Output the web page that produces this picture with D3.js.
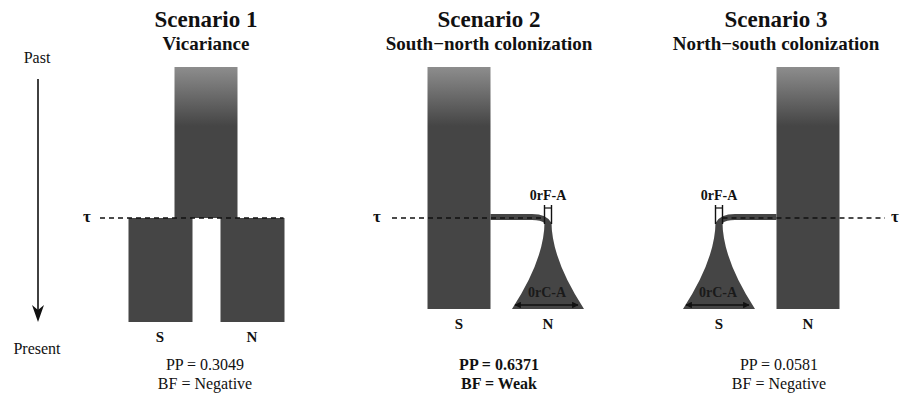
<!DOCTYPE html>
<html lang="en">

<head>
    <meta charset="UTF-8">
    <title>Colonization scenarios</title>
    <script src="https://d3js.org/d3.v7.min.js"></script>
</head>
<style>
    body {
        margin: 0;
        background: #fff;
    }

    text {
        font-family: "Liberation Serif", "Times New Roman", serif;
        fill: #111;
    }
</style>

<body>
    <div id="chart"></div>

    <script>
        // data
        const scenarios = ["Scenario 1", "Scenario 2", "Scenario 3"];
        const models = ["Vicariance", "South\u2212north colonization", "North\u2212south colonization"];
        const ppValues = [0.3049, 0.6371, 0.0581];
        const bfLabels = ["Negative", "Weak", "Negative"];
        const populations = ["S", "N"];
        const timeLabels = ["Past", "Present"];
        // which population is founded by a bottleneck (null = split)
        const founded = [null, "N", "S"];
        const tau = 0.4; // relative split time (0 = present, 1 = top of plot)

        // layout
        const width = 908,
            height = 395;
        const panels = [
            { s: 160, gap: 92, bottom: 322, titleX: 206, infoX: 205, tauX: 87, tauSide: -1 },
            { s: 459, gap: 89, bottom: 309, titleX: 489, infoX: 499, tauX: 377, tauSide: -1 },
            { s: 719, gap: 89, bottom: 309, titleX: 776, infoX: 779, tauX: 895, tauSide: 1 }
        ];
        const barW = 63;
        const best = ppValues.indexOf(d3.max(ppValues));

        const svg = d3.select("#chart")
            .append("svg")
            .attr("width", width)
            .attr("height", height);

        const defs = svg.append("defs");
        const grad = defs.append("linearGradient")
            .attr("id", "fade")
            .attr("gradientUnits", "userSpaceOnUse")
            .attr("x1", 0).attr("x2", 0)
            .attr("y1", 67).attr("y2", 126);
        grad.append("stop").attr("offset", 0).attr("stop-color", "#8d8d8d");
        grad.append("stop").attr("offset", 1).attr("stop-color", "#454545");

        defs.append("marker")
            .attr("id", "head")
            .attr("viewBox", "0 0 10 10")
            .attr("refX", 9).attr("refY", 5)
            .attr("markerWidth", 5).attr("markerHeight", 5)
            .attr("orient", "auto-start-reverse")
            .append("path")
            .attr("d", "M0,0 L10,5 L0,10 Z")
            .attr("fill", "#111");

        const fill = "#454545";

        // time arrow
        const yArrow = d3.scaleLinear().domain([1, 0]).range([79, 322]);
        svg.append("line")
            .attr("x1", 38).attr("x2", 38)
            .attr("y1", yArrow(1)).attr("y2", yArrow(0) - 8)
            .attr("stroke", "#111").attr("stroke-width", 1.6);
        svg.append("path")
            .attr("d", `M32,${yArrow(0) - 17} L38,${yArrow(0)} L44,${yArrow(0) - 17} L38,${yArrow(0) - 12} Z`)
            .attr("fill", "#111");
        svg.selectAll(".time")
            .data(timeLabels)
            .join("text")
            .attr("class", "time")
            .attr("x", 37)
            .attr("y", (d, i) => i === 0 ? 63 : 354)
            .attr("text-anchor", "middle")
            .style("font-size", "16px")
            .text(d => d);

        scenarios.forEach((name, i) => {
            const P = panels[i];
            const g = svg.append("g");
            const x = d3.scalePoint().domain(populations).range([P.s, P.s + P.gap]);
            const y = d3.scaleLinear().domain([1, tau, 0]).range([67, 218, P.bottom]);

            g.append("text")
                .attr("x", P.titleX).attr("y", 27)
                .attr("text-anchor", "middle")
                .style("font-size", "23px").style("font-weight", "bold")
                .text(name);
            g.append("text")
                .attr("x", P.titleX).attr("y", 50)
                .attr("text-anchor", "middle")
                .style("font-size", "19px").style("font-weight", "bold")
                .text(models[i]);

            if (founded[i] === null) {
                // ancestral population splitting into S and N
                const mid = (x("S") + x("N")) / 2;
                g.append("rect")
                    .attr("x", mid - barW / 2).attr("y", y(1))
                    .attr("width", barW).attr("height", y(tau) - y(1))
                    .attr("fill", "url(#fade)");
                g.selectAll(".pop")
                    .data(populations)
                    .join("rect")
                    .attr("x", d => x(d) - barW / 2).attr("y", y(tau))
                    .attr("width", barW + 1).attr("height", y(0) - y(tau))
                    .attr("fill", fill);
                g.append("line")
                    .attr("x1", P.tauX + 13).attr("x2", x("N") + barW / 2)
                    .attr("y1", y(tau)).attr("y2", y(tau))
                    .attr("stroke", "#111").attr("stroke-width", 1.6)
                    .attr("stroke-dasharray", "5,4");
            } else {
                const src = populations.find(p => p !== founded[i]);
                const sx = x(src),
                    fx = x(founded[i]);
                const dir = Math.sign(fx - sx);
                const edge = sx + dir * barW / 2;
                const t = y(tau);
                const tw = 3.5,
                    bw = 36,
                    yTop = t + 4,
                    yBot = y(0);

                g.append("rect")
                    .attr("x", sx - barW / 2).attr("y", y(1))
                    .attr("width", barW).attr("height", y(0) - y(1))
                    .attr("fill", "url(#fade)");

                // white box of the founder size
                g.append("rect")
                    .attr("x", fx - tw).attr("y", t - 11)
                    .attr("width", tw * 2).attr("height", 15)
                    .attr("fill", "#fff");

                // migrant band from the source to the founder
                const band = d3.path();
                band.moveTo(edge, t - 4);
                band.lineTo(fx - dir * 16, t - 4);
                band.quadraticCurveTo(fx - dir * 1, t - 4, fx + dir * tw, yTop + 1);
                band.lineTo(fx - dir * tw, yTop + 1);
                band.quadraticCurveTo(fx - dir * 7, t + 2, fx - dir * 16, t + 2);
                band.lineTo(edge, t + 2);
                band.closePath();
                g.append("path").attr("d", band.toString()).attr("fill", fill);

                // founder population expanding to present
                const fan = d3.path();
                fan.moveTo(fx - tw, yTop);
                fan.quadraticCurveTo(fx - tw, yBot - 50, fx - bw, yBot);
                fan.lineTo(fx + bw, yBot);
                fan.quadraticCurveTo(fx + tw, yBot - 50, fx + tw, yTop);
                fan.closePath();
                g.append("path").attr("d", fan.toString()).attr("fill", fill);

                // founder size bracket
                [-tw, tw].forEach(o => {
                    g.append("line")
                        .attr("x1", fx + o).attr("x2", fx + o)
                        .attr("y1", t - 13).attr("y2", t + 6)
                        .attr("stroke", "#111").attr("stroke-width", 1.4);
                });
                g.append("line")
                    .attr("x1", fx - tw).attr("x2", fx + tw)
                    .attr("y1", t - 10).attr("y2", t - 10)
                    .attr("stroke", "#111").attr("stroke-width", 1.2);
                g.append("text")
                    .attr("x", fx).attr("y", t - 18)
                    .attr("text-anchor", "middle")
                    .style("font-size", "14px").style("font-weight", "bold")
                    .text("0rF-A");

                // current size arrow
                g.append("line")
                    .attr("x1", fx - bw + 3).attr("x2", fx + bw - 6)
                    .attr("y1", yBot - 4).attr("y2", yBot - 4)
                    .attr("stroke", "#111").attr("stroke-width", 1.3)
                    .attr("marker-start", "url(#head)")
                    .attr("marker-end", "url(#head)");
                g.append("text")
                    .attr("x", fx - 1).attr("y", yBot - 12)
                    .attr("text-anchor", "middle")
                    .style("font-size", "14px").style("font-weight", "bold")
                    .style("fill", "#1a1a1a")
                    .text("0rC-A");

                // tau dashed line
                const x1 = P.tauSide < 0 ? P.tauX + 15 : fx + tw,
                    x2 = P.tauSide < 0 ? fx - tw : P.tauX - 10;
                g.append("line")
                    .attr("x1", x1).attr("x2", x2)
                    .attr("y1", t).attr("y2", t)
                    .attr("stroke", "#111").attr("stroke-width", 1.6)
                    .attr("stroke-dasharray", "5,4");
            }

            g.append("text")
                .attr("x", P.tauX).attr("y", y(tau) + 4)
                .attr("text-anchor", "middle")
                .style("font-size", "17px").style("font-weight", "bold")
                .text("\u03c4");

            g.selectAll(".lab")
                .data(populations)
                .join("text")
                .attr("class", "lab")
                .attr("x", d => x(d))
                .attr("y", y(0) + 20)
                .attr("text-anchor", "middle")
                .style("font-size", "15px").style("font-weight", "bold")
                .text(d => d);

            const info = g.append("text")
                .attr("text-anchor", "middle")
                .style("font-size", "16px")
                .style("font-weight", i === best ? "bold" : "normal");
            info.append("tspan")
                .attr("x", P.infoX).attr("y", 370)
                .text(`PP = ${d3.format(".4f")(ppValues[i])}`);
            info.append("tspan")
                .attr("x", P.infoX).attr("y", 389)
                .text(`BF = ${bfLabels[i]}`);
        });
    </script>
</body>

</html>
